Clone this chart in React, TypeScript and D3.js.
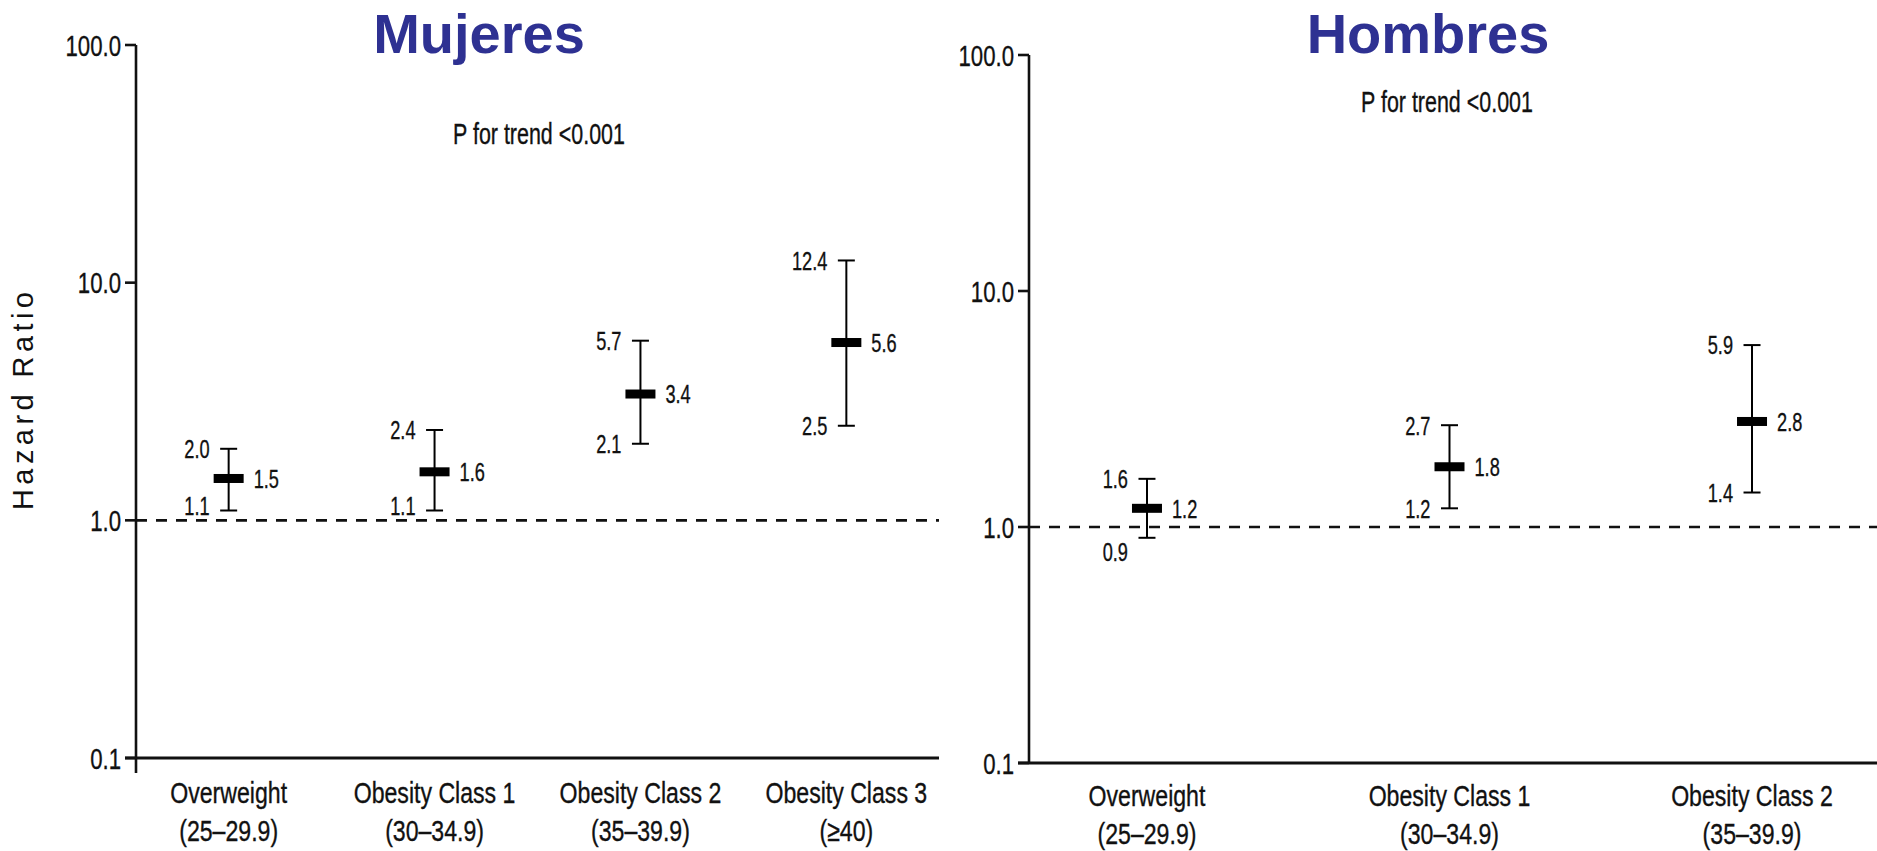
import * as React from "react";
import * as d3 from "d3";

// Mujeres
const womenCategories = ["Overweight", "Obesity Class 1", "Obesity Class 2", "Obesity Class 3"];
const womenRanges = ["(25–29.9)", "(30–34.9)", "(35–39.9)", "(≥40)"];
const womenHR = [1.5, 1.6, 3.4, 5.6];
const womenLower = [1.1, 1.1, 2.1, 2.5];
const womenUpper = [2.0, 2.4, 5.7, 12.4];

// Hombres
const menCategories = ["Overweight", "Obesity Class 1", "Obesity Class 2"];
const menRanges = ["(25–29.9)", "(30–34.9)", "(35–39.9)"];
const menHR = [1.2, 1.8, 2.8];
const menLower = [0.9, 1.2, 1.4];
const menUpper = [1.6, 2.7, 5.9];

const yTicks = [0.1, 1, 10, 100];
const pTrend = "P for trend <0.001";

const FONT = "'Liberation Sans', Arial, sans-serif";
const INK = "#111";
const TITLE_COLOR = "#2e3192";

function Narrow({
  x,
  y,
  size,
  anchor = "start",
  sx = 0.76,
  dy,
  children,
}: {
  x: number;
  y: number;
  size: number;
  anchor?: string;
  sx?: number;
  dy?: string;
  children: React.ReactNode;
}) {
  return (
    <text
      transform={`translate(${x},${y}) scale(${sx},1)`}
      fontSize={size}
      textAnchor={anchor}
      dy={dy}
      fill={INK}
      stroke={INK}
      strokeWidth={0.35}
      fontFamily={FONT}
    >
      {children}
    </text>
  );
}

interface PanelProps {
  title: string;
  titleX: number;
  pX: number;
  pY: number;
  categories: string[];
  ranges: string[];
  hr: number[];
  lower: number[];
  upper: number[];
  x0: number;
  x1: number;
  pad: number;
  lineEnd: number;
  yTop: number;
  yBottom: number;
  axisExtend: number;
  catY: number;
}

function Panel(p: PanelProps) {
  const x = d3.scalePoint<string>().domain(p.categories).range([p.x0, p.x1]).padding(p.pad);
  const y = d3.scaleLog().domain([0.1, 100]).range([p.yBottom, p.yTop]);
  const fmt = d3.format(".1f");
  const capW = 17;
  const boxW = 30;
  const boxH = 9;

  return (
    <g>
      <text
        x={p.titleX}
        y={53}
        textAnchor="middle"
        fontSize={56}
        fontWeight="bold"
        fill={TITLE_COLOR}
        fontFamily={FONT}
      >
        {p.title}
      </text>
      <Narrow x={p.pX} y={p.pY} size={29} anchor="middle" sx={0.74} dy="0.35em">
        {pTrend}
      </Narrow>

      {/* y axis */}
      <line x1={p.x0} x2={p.x0} y1={p.yTop} y2={p.yBottom + p.axisExtend} stroke={INK} strokeWidth={2.6} />
      {yTicks.map((t) => (
        <g key={t}>
          <line x1={p.x0 - 11} x2={p.x0} y1={y(t)} y2={y(t)} stroke={INK} strokeWidth={2.6} />
          <Narrow x={p.x0 - 15} y={y(t)} size={30} anchor="end" sx={0.74} dy="0.36em">
            {fmt(t)}
          </Narrow>
        </g>
      ))}
      {/* bottom line */}
      <line x1={p.x0 - 11} x2={p.lineEnd} y1={p.yBottom} y2={p.yBottom} stroke={INK} strokeWidth={3} />
      {/* reference line */}
      <line
        x1={p.x0}
        x2={p.lineEnd}
        y1={y(1)}
        y2={y(1)}
        stroke={INK}
        strokeWidth={2.6}
        strokeDasharray="11,9"
      />

      {p.categories.map((c, i) => {
        const cx = x(c) as number;
        const yLo = y(p.lower[i]);
        let lowLabelY = yLo;
        if (p.lower[i] < 1) lowLabelY = yLo + 14;
        else if (y(1) - yLo < 14) lowLabelY = yLo - 5;
        return (
          <g key={c}>
            <line x1={cx} x2={cx} y1={yLo} y2={y(p.upper[i])} stroke="#000" strokeWidth={2} />
            <line x1={cx - capW / 2} x2={cx + capW / 2} y1={y(p.upper[i])} y2={y(p.upper[i])} stroke="#000" strokeWidth={2} />
            <line x1={cx - capW / 2} x2={cx + capW / 2} y1={yLo} y2={yLo} stroke="#000" strokeWidth={2} />
            <rect x={cx - boxW / 2} y={y(p.hr[i]) - boxH / 2} width={boxW} height={boxH} fill="#000" />
            <Narrow x={cx - 19} y={y(p.upper[i])} size={26} anchor="end" sx={0.7} dy="0.36em">
              {fmt(p.upper[i])}
            </Narrow>
            <Narrow x={cx - 19} y={lowLabelY} size={26} anchor="end" sx={0.7} dy="0.36em">
              {fmt(p.lower[i])}
            </Narrow>
            <Narrow x={cx + 25} y={y(p.hr[i])} size={26} sx={0.7} dy="0.36em">
              {fmt(p.hr[i])}
            </Narrow>
            <Narrow x={cx} y={p.catY} size={30} anchor="middle" sx={0.77}>
              {c}
            </Narrow>
            <Narrow x={cx} y={p.catY + 38} size={30} anchor="middle" sx={0.77}>
              {p.ranges[i]}
            </Narrow>
          </g>
        );
      })}
    </g>
  );
}

export default function App() {
  return (
    <svg
      width={1877}
      height={851}
      viewBox="0 0 1877 851"
      style={{ position: "absolute", left: 0, top: 0, background: "#fff" }}
    >
      <rect width={1877} height={851} fill="#fff" />
      <text
        transform="translate(33,401) rotate(-90)"
        textAnchor="middle"
        fontSize={29}
        fill={INK}
        fontFamily={FONT}
        textLength={218}
        lengthAdjust="spacing"
      >
        Hazard Ratio
      </text>
      <Panel
        title="Mujeres"
        titleX={479}
        pX={539}
        pY={134}
        categories={womenCategories}
        ranges={womenRanges}
        hr={womenHR}
        lower={womenLower}
        upper={womenUpper}
        x0={136}
        x1={939}
        pad={0.45}
        lineEnd={939}
        yTop={45}
        yBottom={758}
        axisExtend={15}
        catY={803}
      />
      <Panel
        title="Hombres"
        titleX={1428}
        pX={1447}
        pY={102}
        categories={menCategories}
        ranges={menRanges}
        hr={menHR}
        lower={menLower}
        upper={menUpper}
        x0={1029}
        x1={1870}
        pad={0.39}
        lineEnd={1877}
        yTop={55}
        yBottom={763}
        axisExtend={0}
        catY={806}
      />
    </svg>
  );
}
